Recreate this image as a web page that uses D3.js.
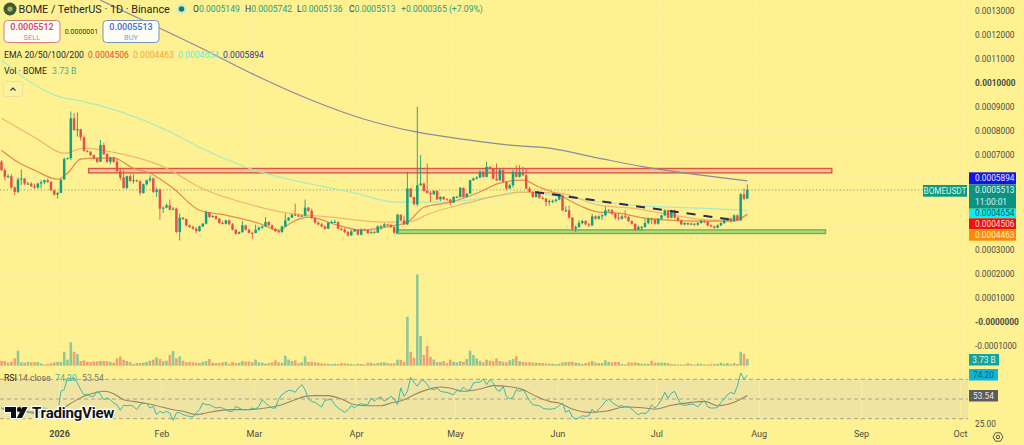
<!DOCTYPE html>
<html>
<head>
<meta charset="utf-8">
<style>
html,body{margin:0;padding:0;background:#fef192;overflow:hidden}
svg{display:block;font-family:Roboto,"Liberation Sans",sans-serif}
</style>
<script src="https://cdn.jsdelivr.net/npm/d3@7/dist/d3.min.js"></script>
</head>
<body>
<svg id="chart" width="1024" height="445"></svg>
<script>
// Prices are kept in units of 0.0000001 USDT.
const firstDay = Date.UTC(2025, 11, 15);
const firstOpen = 6690;
const closes = [
6340,6060,6088,5612,5430,5948,5990,5780,5780,5668,
5612,5780,5836,5920,5850,5500,5318,5388,5948,6802,
6844,8510,8020,8048,7712,7152,7110,6970,6830,6690,
7390,7012,6690,6872,6690,6298,6032,5598,6088,5892,
5920,5878,5388,5752,5920,5990,5430,5528,4730,4772,
4870,4688,4730,3750,4352,4296,4030,3960,3890,3792,
3988,4100,4590,4380,4422,4310,4128,4100,4240,4072,
3848,3680,3750,4030,3848,3722,3708,3848,3932,3988,
4170,4030,3890,3792,3750,3988,4240,4352,4478,4450,
4408,4436,4772,4632,4338,4142,4072,3988,3890,4142,
4170,4170,3890,3848,3750,3610,3778,3848,3638,3862,
3848,3708,3750,3722,3988,3988,4072,4058,3960,3722,
4478,4240,4072,5570,5220,4912,5710,5780,5472,5388,
5332,5472,5122,5220,5122,5108,4982,5220,5220,5598,
5220,5360,5920,5990,6032,6270,6060,6480,6410,5990,
5920,6340,5850,5570,5710,6270,6060,6270,6130,5570,
5430,5220,5388,5178,5150,5010,5052,5052,5108,5290,
4660,4660,4352,3890,3960,4128,4212,4072,4030,4408,
4310,4408,4450,4660,4660,4520,4352,4310,4408,4380,
4212,4100,3848,3960,3960,4128,4310,4268,4100,4310,
4450,4660,4352,4660,4352,4240,4072,4128,4072,4100,
4058,4128,4212,4184,4030,3988,3932,4030,4128,4240,
4310,4212,4450,4240,5332,5149,5513];
const highs = [
6760,6410,6172,6172,5668,6032,6368,5990,5850,5836,
5780,5808,5920,5948,5990,5878,5528,5416,5976,6872,
6872,8790,8720,8748,8076,7796,7180,7138,6998,6872,
7600,7488,7068,6900,6900,6830,6410,6340,6116,6172,
6172,5948,5920,5780,5948,6130,6032,5612,5570,4828,
4940,5108,4800,4772,4520,4380,4310,4072,4016,3960,
4016,4128,4660,4590,4464,4436,4352,4212,4268,4268,
4128,3890,3778,4212,4058,3890,3750,4058,3988,4016,
4380,4212,4072,3904,3848,4016,4520,4380,4506,4940,
4492,4464,5108,4800,4730,4380,4198,4128,4016,4170,
4240,4268,4198,3946,3918,3806,3848,3890,3876,3904,
3890,3848,3820,3806,4030,4044,4128,4100,4072,3988,
4520,4478,4436,6270,5598,5220,9000,6970,5808,6620,
5472,5500,5500,5248,5248,5178,5150,5248,5276,5640,
5626,5388,5948,6032,6088,6340,6312,6690,6508,6438,
6620,6410,6410,5878,5780,6340,6550,6550,6480,6410,
5640,5458,5430,5388,5248,5178,5108,5108,5150,5360,
5318,4828,4864,4380,4030,4240,4268,4240,4128,4520,
4450,4450,4520,4828,4716,4716,4548,4548,4464,4660,
4408,4240,4100,4030,4016,4310,4352,4352,4324,4338,
4478,4702,4688,4688,4688,4408,4268,4156,4156,4156,
4128,4170,4268,4240,4212,4072,4016,4072,4156,4296,
4352,4352,4492,4492,5388,5570,5742];
const lows = [
6312,5920,6004,5570,5290,5388,5710,5710,5724,5640,
5570,5584,5584,5752,5808,5472,5276,5150,5416,5948,
6788,6760,7992,7740,7572,7110,7082,6928,6788,6648,
6690,6970,6648,6592,6648,6270,5920,5570,5556,5850,
5780,5836,5290,5360,5696,5836,5388,5220,4268,4548,
4744,4660,4660,3708,3400,4254,3988,3918,3848,3708,
3764,3960,4072,4338,4352,4268,4100,4072,4072,4044,
3820,3638,3666,3722,3820,3680,3470,3708,3792,3876,
3960,3988,3848,3750,3708,3722,3960,4212,4352,4422,
4380,4380,4408,4604,4310,4100,4030,3946,3848,3876,
4114,4128,3848,3806,3708,3568,3596,3750,3610,3610,
3806,3680,3680,3680,3722,3848,3960,4016,3932,3680,
3708,4212,4044,4044,5192,4884,4828,5696,5444,5360,
5010,5304,5094,5052,5094,5080,4870,4968,5192,5192,
5192,5206,5360,5892,5948,6004,6032,6032,6382,5962,
5892,5892,5822,5500,5570,5612,6032,6032,6088,5542,
5402,5178,5192,5150,5108,4828,4856,4968,4996,5080,
4632,4590,4310,3792,3750,3932,4072,4030,3960,4002,
4268,4268,4268,4408,4604,4478,4268,4240,4268,4324,
4170,4058,3792,3876,3792,3932,4072,4072,4058,4058,
4268,4408,4310,4324,4310,4198,4030,4030,4030,4044,
4002,4016,4100,4128,3988,3946,3890,3904,4002,4086,
4212,4170,4198,4212,4212,5080,5136];

// Daily volume in billions of BOME.
const volumes = [
2.6,2.6,1.7,2.2,4.1,8.4,1.9,1.7,2.2,1.9,
1.9,2.1,1.3,0.6,0.9,1.5,1.9,2.2,2.1,7.8,
3.4,13.1,7.8,6.5,2.6,3,2.2,2.1,2.4,2.4,
2.6,2.6,2.6,2.1,1.7,4.1,5.2,3.4,2.6,1.9,
0.9,1.5,1.5,1.7,2.2,2.8,3.4,4.7,3.73,2.6,
2.8,6,8.2,4.1,5.2,2.8,1.9,2.2,1.9,1.7,
1.5,2.2,2.6,3.73,1.7,1.5,1.5,1.9,2.2,1.1,
2.2,1.5,1.7,2.6,2.2,2.4,1.9,3.4,1.9,1.7,
1.1,1.5,1.9,3,1.9,1.7,5.6,3.4,2.6,3,
1.3,1.9,5.2,2.2,2.2,1.9,1.7,1.3,1.3,1.1,
0.9,1.1,0.9,1.5,1.3,1.1,0.9,0.7,1.1,0.9,
0.7,1.7,1.7,1.1,1.5,1.9,1.9,1.5,1.3,1.3,
3.4,3.2,2.2,27.4,7.8,4.5,51.1,16.6,6,11,
5,3.5,2.1,2.1,2.6,1.5,3.4,2.2,1.9,2.6,
2.2,3.73,8.4,6,4.1,2.8,1.9,3.4,2.8,2.6,
4.1,2.6,2.2,1.9,3,3.73,5.2,2.6,2.1,1.9,
1.9,1.7,1.7,1.5,1.5,1.3,1.1,1.1,0.9,1.1,
1.9,2.1,2.2,2.2,1.7,1.5,0.9,1.5,1.9,2.6,
1.7,1.5,1.5,3,2.1,1.9,2.1,2.2,1.1,0.7,
1.9,1.7,1.9,1.5,1.1,1.1,1.1,2.8,1.7,1.7,
1.7,1.7,1.5,0.9,0.9,0.7,0.7,0.7,1.5,0.9,
0.6,1.1,1.1,0.7,0.7,0.9,0.9,1.1,1.7,1.1,
1.5,0.9,1.5,0.9,7.8,6.5,3.73];

// RSI(14) for each session, last value on the last candle.
const rsiValues = [
40.8,38.5,37.5,34.1,33.1,38.5,39.8,38.5,36.4,35.8,35.1,39.2,40.5,40.8,39.8,35.1,33.1,34.1,
57.8,59.5,71.4,70.3,71.4,66.3,59.5,54.4,54.4,52.7,52.7,57.8,54.4,49.3,51,49.3,45.9,44.2,38.5,43.6,
43.2,43.6,42.5,39.2,44.2,45.9,45.3,40.8,42.5,34.1,37.5,35.8,37.5,35.8,28.3,35.8,36.4,34.1,33.1,32.4,
31.7,35.8,39.2,45.9,44.2,44.2,42.5,40.8,41.5,40.8,39.2,37.5,37.5,42.5,40.8,39.2,39.2,39.2,40.8,39.8,
42.5,49.3,45.9,43.2,40.8,40.8,50,54.4,56.8,58.8,58.5,56.8,61.2,64.6,59.5,50,47.6,46.6,44.2,41.9,
48.6,49.3,49.3,44.2,40.8,38.5,36.4,39.2,43.2,40.8,44.2,45.3,44.2,44.2,51,47.6,51,52,
47.6,50,52.7,50,44.2,61.2,52.7,57.8,72,67,62.9,68,69,64.6,60.2,59.5,61.2,57.8,57.1,56.8,
55.4,54.4,58.8,57.8,62.2,58.8,59.5,66.3,67,67,70.3,64.6,69.7,66.3,59.5,57.8,62.9,52.7,50.3,51.7,
59.5,57.8,59.5,54.4,48.3,44.2,43.6,43.2,40.8,39.8,39.8,39.8,40.8,43.2,45.9,36.4,38.5,31.7,29.7,30.7,
33.1,32.4,33.1,39.8,35.8,39.8,43.2,47.6,50,46.6,44.2,42.5,43.2,41.9,42.5,39.8,36.4,34.1,35.8,35.1,
37.5,44.2,40.8,44.2,49.3,56.8,51,56.1,57.8,50,44.2,43.6,44.2,44.9,44.2,41.9,45.9,48.3,41.9,40.8,
40.8,41.5,46.6,50,54.4,56.8,55.1,62.9,76.4,70.3,74.2];

// RSI moving average, read at the listed session numbers.
const rsiMaDays = [0,6,12,18,22,25,29,31,34,37,40,43,47,51,55,59,62,66,70,75,80,85,89,92,95,99,103,107,111,
115,118,122,125,129,133,137,140,145,149,155,158,162,166,169,173,178,183,189,195,198,203,209,213,217,222,226];
const rsiMaValues = [40.8,37.5,36.4,39.8,47.6,52.7,56.8,57.8,55.4,49.3,47.6,45.9,43.2,39.8,37.5,34.1,35.8,38.2,39.2,39.2,40.8,44.2,49.3,52.7,53.4,53.4,50,44.2,43.2,
43.2,45.9,49.3,54.4,59.5,62.2,60.2,57.8,60.2,63.6,61.9,59.5,52.7,47.6,45.9,39.8,36.4,37.5,41.9,40.8,39.8,43.6,46.6,47.6,43.2,46.6,53.54];

// Exponential moving averages, read at the listed session numbers.
const ema20Days = [0,5,10,17,20,24,29,34,40,45,52,60,68,78,84,88,93,102,109,118,123,128,136,144,151,158,163,168,175,181,187,195,202,212,222,226];
const ema20 = [7176,6673,6339,5962,6213,6799,6841,6841,6422,6213,5586,4665,4456,4121,3828,4163,4372,4038,3828,3996,4163,4791,5000,5376,5795,5920,5628,5376,4874,4582,4540,4330,4247,4205,4205,4506];
const ema50Days = [0,10,19,25,32,50,60,75,85,100,116,123,130,141,151,157,169,181,191,202,216,222,226];
const ema50 = [8514,7719,7050,7259,7134,6422,5628,4916,4582,4372,4163,4163,4540,4958,5293,5418,5376,4874,4749,4498,4247,4289,4463];
const ema100Days = [0,18,23,50,60,75,106,120,132,146,154,158,171,191,212,226];
const ema100 = [10941,9393,9268,8012,7301,6422,5418,5000,5000,5167,5335,5418,5209,4874,4749,4654];
const ema200Days = [30,48,60,75,94,109,126,142,154,166,181,197,212,226];
const ema200 = [13451,12280,11485,10439,9268,8514,7929,7594,7385,7259,6841,6422,6130,5894];

// Hand-drawn zones and the descending trend line.
const resistanceZone = {fromDay: 26.4, toDay: 251.6, top: 6410, bottom: 6226};
const supportZone = {fromDay: 119.8, toDay: 249.7, top: 3841, bottom: 3690};
const trendDays = [161.7, 220.8];
const trendPrices = [5431, 4276];

const priceTicks = [13000,12000,11000,10000,9000,8000,7000,3000,2000,1000,0,-1000];
const priceTickLabels = ["0.0013000","0.0012000","0.0011000","0.0010000","0.0009000","0.0008000","0.0007000","0.0003000","0.0002000","0.0001000","-0.0000000","-0.0001000"];
const priceGrid = [13000,12000,11000,10000,9000,8000,7000,6000,5000,4000,3000,2000,1000,0,-1000];
const monthDays = [[2026,0],[2026,1],[2026,2],[2026,3],[2026,4],[2026,5],[2026,6],[2026,7],[2026,8],[2026,9]];
const monthLabels = ["2026","Feb","Mar","Apr","May","Jun","Jul","Aug","Sep","Oct"];

const DAY = 86400000;
const dayDate = d => new Date(firstDay + d * DAY);
const x = d3.scaleUtc().domain([new Date(firstDay), new Date(Date.UTC(2026, 9, 1))]).range([1.5, 958.5]);
const y = d3.scaleLinear().domain([0, 13000]).range([321.7, 11]);
const yVol = d3.scaleLinear().domain([0, 52]).range([365.7, 272.8]);
const yRsi = d3.scaleLinear().domain([30, 70]).range([418.7, 379.3]);

const up = "#12a07e", down = "#e2524a";
const plotRight = 968;
const svg = d3.select("#chart");

// RSI background band and session grid
svg.append("rect").attr("x", 0).attr("width", plotRight)
  .attr("y", yRsi(70)).attr("height", yRsi(30) - yRsi(70)).attr("fill", "#efe4a2");

const grid = svg.append("g").attr("stroke", "#f9ec9a").attr("stroke-width", 1);
grid.selectAll("line.h").data(priceGrid).join("line").attr("class", "h")
  .attr("x1", 0).attr("x2", plotRight)
  .attr("y1", d => Math.round(y(d)) + 0.5).attr("y2", d => Math.round(y(d)) + 0.5);
grid.selectAll("line.v").data(monthDays).join("line").attr("class", "v")
  .attr("x1", d => Math.round(x(Date.UTC(d[0], d[1], 1)) + 1.5) + 0.5)
  .attr("x2", d => Math.round(x(Date.UTC(d[0], d[1], 1)) + 1.5) + 0.5)
  .attr("y1", 0).attr("y2", 428);

// Zones sit under the candles
function zone(z, stroke, fill) {
  svg.append("rect")
    .attr("x", x(dayDate(z.fromDay))).attr("width", x(dayDate(z.toDay)) - x(dayDate(z.fromDay)))
    .attr("y", y(z.top)).attr("height", y(z.bottom) - y(z.top))
    .attr("fill", fill).attr("stroke", stroke).attr("stroke-width", 1.4);
}
zone(resistanceZone, "#d8574a", "#eec592");
zone(supportZone, "#6fb24a", "#b6d97c");

// Last price line
svg.append("line").attr("x1", 0).attr("x2", 923)
  .attr("y1", y(5513)).attr("y2", y(5513))
  .attr("stroke", "#7f9f78").attr("stroke-width", 1).attr("stroke-dasharray", "1.2,2.2");

// Moving averages
const emaLine = (days, vals, color, w) => {
  const line = d3.line().x((d, i) => x(dayDate(days[i]))).y(d => y(d)).curve(d3.curveMonotoneX);
  svg.append("path").datum(vals).attr("d", line).attr("fill", "none")
    .attr("stroke", color).attr("stroke-width", w);
};
emaLine(ema200Days, ema200, "#8f899f", 1.2);
emaLine(ema100Days, ema100, "#a8ecc2", 1.2);
emaLine(ema50Days, ema50, "#efb76b", 1.2);
emaLine(ema20Days, ema20, "#e58a4a", 1.2);

// Candles
const candles = closes.map((c, i) => ({
  day: i, open: i ? closes[i - 1] : firstOpen, close: c, high: highs[i], low: lows[i], vol: volumes[i], rsi: rsiValues[i]
}));
const candleG = svg.append("g");
candleG.selectAll("line").data(candles).join("line")
  .attr("x1", d => x(dayDate(d.day))).attr("x2", d => x(dayDate(d.day)))
  .attr("y1", d => y(d.high)).attr("y2", d => y(d.low))
  .attr("stroke", d => d.close >= d.open ? up : down).attr("stroke-width", 0.9);
candleG.selectAll("rect").data(candles).join("rect")
  .attr("x", d => x(dayDate(d.day)) - 1.25).attr("width", 2.5)
  .attr("y", d => y(Math.max(d.open, d.close)))
  .attr("height", d => Math.max(1, Math.abs(y(d.open) - y(d.close))))
  .attr("fill", d => d.close >= d.open ? up : down);

// Descending trend line
svg.append("path")
  .datum(trendDays.map((d, i) => [d, trendPrices[i]]))
  .attr("d", d3.line().x(d => x(dayDate(d[0]))).y(d => y(d[1])))
  .attr("fill", "none").attr("stroke", "#2a2a55").attr("stroke-width", 2)
  .attr("stroke-dasharray", "9,8");

// Volume
svg.append("g").selectAll("rect").data(candles).join("rect")
  .attr("x", d => x(dayDate(d.day)) - 1.3).attr("width", 2.6)
  .attr("y", d => yVol(d.vol)).attr("height", d => yVol(0) - yVol(d.vol))
  .attr("fill", d => d.close >= d.open ? "#8ec79a" : "#f0a076");

// RSI pane
svg.append("g").attr("stroke", "#a8a48a").attr("stroke-width", 1).attr("stroke-dasharray", "4,3")
  .selectAll("line").data([70, 50, 30]).join("line")
  .attr("x1", 0).attr("x2", plotRight).attr("y1", d => yRsi(d)).attr("y2", d => yRsi(d));
svg.append("path").datum(rsiMaValues)
  .attr("d", d3.line().x((d, i) => x(dayDate(rsiMaDays[i]))).y(d => yRsi(d)).curve(d3.curveMonotoneX))
  .attr("fill", "none").attr("stroke", "#9c8564").attr("stroke-width", 1.1);
svg.append("path").datum(candles)
  .attr("d", d3.line().x(d => x(dayDate(d.day))).y(d => yRsi(d.rsi)))
  .attr("fill", "none").attr("stroke", "#3fb8a6").attr("stroke-width", 1);

// Axes
const priceAxis = d3.axisRight(y).tickValues(priceTicks).tickSize(0).tickPadding(0)
  .tickFormat((d, i) => priceTickLabels[i]);
const priceG = svg.append("g").attr("transform", "translate(975,0)").call(priceAxis);
priceG.select(".domain").remove();
priceG.selectAll("text")
  .attr("font-family", "Roboto,sans-serif").attr("font-size", 8.3).attr("fill", "#4c4c45")
  .attr("font-weight", d => (d === 10000 || d === 0) ? 700 : 400);

const timeAxis = d3.axisBottom(x).tickValues(monthDays.map(d => new Date(Date.UTC(d[0], d[1], 1))))
  .tickSize(0).tickPadding(0).tickFormat((d, i) => monthLabels[i]);
const timeG = svg.append("g").attr("transform", "translate(1.5,431)").call(timeAxis);
timeG.select(".domain").remove();
timeG.selectAll("text")
  .attr("font-family", "Roboto,sans-serif").attr("font-size", 9).attr("fill", "#4c4c45")
  .attr("font-weight", (d, i) => i === 0 ? 700 : 400);

svg.append("text").attr("x", 975).attr("y", 424).attr("dy", ".32em")
  .attr("font-size", 8.3).attr("fill", "#4c4c45").text("25.00");

// Price tags on the right-hand scale
const tags = [
  {y: 172.3, h: 12, fill: "#1414e6", color: "#e8ecff", lines: ["0.0005894"]},
  {y: 184.3, h: 24.4, fill: "#0c9182", color: "#dff5ee", lines: ["0.0005513", "11:00:01"]},
  {y: 208.7, h: 9.6, fill: "#0af0f0", color: "#0b5560", lines: ["0.0004654"]},
  {y: 218.3, h: 11, fill: "#f20f0f", color: "#ffdcd0", lines: ["0.0004506"]},
  {y: 229.5, h: 11.2, fill: "#fb8a0a", color: "#fdeec0", lines: ["0.0004463"]}
];
tags.forEach(t => {
  svg.append("rect").attr("x", 969).attr("y", t.y).attr("width", 47).attr("height", t.h).attr("fill", t.fill);
  t.lines.forEach((s, i) => {
    svg.append("text").attr("x", 975).attr("y", t.y + (t.lines.length > 1 ? 6.2 + i * 11.6 : t.h / 2))
      .attr("dy", ".35em").attr("font-size", 8.3).attr("fill", t.color).text(s);
  });
});
svg.append("rect").attr("x", 923).attr("y", 185).attr("width", 44).attr("height", 11.7).attr("fill", "#0f9a86");
svg.append("text").attr("x", 945).attr("y", 191).attr("dy", ".35em").attr("text-anchor", "middle")
  .attr("font-size", 8.2).attr("fill", "#d9f3ea").text("BOMEUSDT");

const paneTags = [
  {y: 354, w: 30, fill: "#17a398", color: "#d9f5ee", s: "3.73 B"},
  {y: 369, w: 29, fill: "#0fb5d8", color: "#075f7a", s: "74.20"},
  {y: 390, w: 29, fill: "#5c5c5c", color: "#e8e8e8", s: "53.54"}
];
paneTags.forEach(t => {
  svg.append("rect").attr("x", 969).attr("y", t.y).attr("width", t.w).attr("height", 11.5).attr("fill", t.fill);
  svg.append("text").attr("x", 969 + t.w / 2).attr("y", t.y + 5.8).attr("dy", ".35em").attr("text-anchor", "middle")
    .attr("font-size", 8.3).attr("fill", t.color).text(t.s);
});

// Settings glyph
const gear = svg.append("g").attr("transform", "translate(998,437)").attr("fill", "none").attr("stroke", "#444").attr("stroke-width", 0.9);
gear.append("path").attr("d", "M-5,0L-2.5,-4.2H2.5L5,0L2.5,4.2H-2.5Z");
gear.append("circle").attr("r", 1.7);

// Header
svg.append("circle").attr("cx", 10).attr("cy", 9).attr("r", 6.5).attr("fill", "#3d5a35");
svg.append("circle").attr("cx", 10).attr("cy", 9).attr("r", 2.6).attr("fill", "#a8b25c");
svg.append("text").attr("x", 18.5).attr("y", 12.5).attr("font-size", 10.8).attr("fill", "#26261f")
  .text("BOME / TetherUS · 1D · Binance");
svg.append("circle").attr("cx", 181.5).attr("cy", 9).attr("r", 5.5).attr("fill", "#d3ecc0");
svg.append("circle").attr("cx", 181.5).attr("cy", 9).attr("r", 2.8).attr("fill", "#0c7f6a");

const ohlcLabels = ["O", "H", "L", "C"];
const ohlcValues = ["0.0005149", "0.0005742", "0.0005136", "0.0005513"];
const ohlcX = [193, 245, 297, 349];
ohlcLabels.forEach((k, i) => {
  const t = svg.append("text").attr("x", ohlcX[i]).attr("y", 12).attr("font-size", 8.6);
  t.append("tspan").attr("fill", "#3a3a30").text(k);
  t.append("tspan").attr("fill", "#2a9d80").text(ohlcValues[i]);
});
svg.append("text").attr("x", 401).attr("y", 12).attr("font-size", 8.6).attr("fill", "#2a9d80")
  .text("+0.0000365 (+7.09%)");

function tradeBox(bx, stroke, color, sub, price, subColor) {
  svg.append("rect").attr("x", bx).attr("y", 20.5).attr("width", 56).attr("height", 22)
    .attr("rx", 3.5).attr("fill", "#fdfdf6").attr("stroke", stroke).attr("stroke-width", 1);
  svg.append("text").attr("x", bx + 28).attr("y", 30).attr("text-anchor", "middle")
    .attr("font-size", 9).attr("font-weight", 500).attr("fill", color).text(price);
  svg.append("text").attr("x", bx + 28).attr("y", 39.5).attr("text-anchor", "middle")
    .attr("font-size", 7.5).attr("fill", subColor).text(sub);
}
tradeBox(4, "#dd7f74", "#cf4360", "SELL", "0.0005512", "#dd7f9a");
tradeBox(103, "#7793b8", "#3f6fd8", "BUY", "0.0005513", "#7f9fdc");
svg.append("text").attr("x", 81.5).attr("y", 34).attr("text-anchor", "middle")
  .attr("font-size", 7).attr("fill", "#33332b").text("0.0000001");

svg.append("text").attr("x", 4).attr("y", 58).attr("font-size", 8.7).attr("fill", "#26261f").text("EMA 20/50/100/200");
const emaLegend = [
  {x: 88, c: "#e64a2e", s: "0.0004506"},
  {x: 133, c: "#f5a33c", s: "0.0004463"},
  {x: 178, c: "#58efe0", s: "0.0004654"},
  {x: 223, c: "#34309a", s: "0.0005894"}
];
emaLegend.forEach(e => svg.append("text").attr("x", e.x).attr("y", 58).attr("font-size", 8.6).attr("fill", e.c).text(e.s));

svg.append("text").attr("x", 4).attr("y", 74).attr("font-size", 8.7).attr("fill", "#26261f").text("Vol · BOME");
svg.append("text").attr("x", 52).attr("y", 74).attr("font-size", 8.7).attr("fill", "#3fae97").text("3.73 B");

svg.append("rect").attr("x", 3.5).attr("y", 81.5).attr("width", 19).attr("height", 15).attr("rx", 2)
  .attr("fill", "#fdf29f").attr("stroke", "#eee0a0");
svg.append("path").attr("d", "M10.5,90.5L13,88L15.5,90.5").attr("fill", "none").attr("stroke", "#33332b").attr("stroke-width", 1.1);

// RSI legend
const rsiLegend = [
  {x: 4, c: "#26261f", s: "RSI"},
  {x: 18, c: "#6a6a5c", s: "14 close"},
  {x: 55, c: "#3fb8a6", s: "74.20"},
  {x: 82, c: "#7c7c6c", s: "53.54"}
];
rsiLegend.forEach(r => svg.append("text").attr("x", r.x).attr("y", 381).attr("font-size", 8.7).attr("fill", r.c).text(r.s));

// Watermark
const mark = svg.append("g");
mark.append("path").attr("d", "M5,407H16V418H11V412H5Z M22.5,407H27.5L22,418H16.8Z")
  .attr("fill", "#111").attr("stroke", "#fff").attr("stroke-width", 2).attr("paint-order", "stroke");
mark.append("circle").attr("cx", 19.3).attr("cy", 409.5).attr("r", 2.4).attr("fill", "#111");
mark.append("text").attr("x", 32).attr("y", 418).attr("font-size", 15).attr("font-weight", 700)
  .attr("fill", "#111").attr("stroke", "#fff").attr("stroke-width", 2.5).attr("paint-order", "stroke")
  .attr("letter-spacing", -0.2).text("TradingView");
</script>
</body>
</html>
